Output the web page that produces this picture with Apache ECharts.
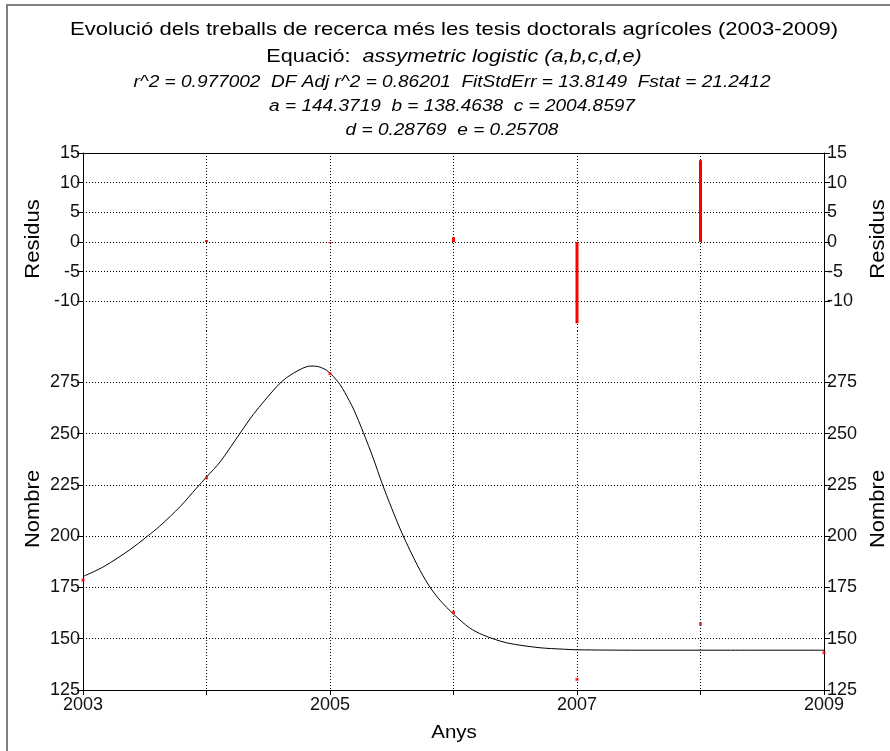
<!DOCTYPE html>
<html>
<head>
<meta charset="utf-8">
<script src="https://cdn.jsdelivr.net/npm/echarts@6/dist/echarts.min.js"></script>
<style>html,body{margin:0;padding:0;background:#fff;}#c{width:890px;height:751px;}</style>
</head>
<body>
<div id="c"></div>
<script>
// Observed data
const years = [2003, 2004, 2005, 2006, 2007, 2008, 2009];
const observed = [178.6, 228.4, 279.2, 162.8, 130.2, 157.2, 143.2];
const residuals = [0, 0.3, -0.2, 0.8, -13.7, 13.8, 0];
// Fitted curve
const fitYears = [2003.00, 2003.17, 2003.38, 2003.52, 2003.62, 2003.79, 2003.92, 2004.00, 2004.11, 2004.27, 2004.38, 2004.57, 2004.65, 2004.76, 2004.84, 2004.89, 2004.96, 2005.01, 2005.08, 2005.12, 2005.19, 2005.27, 2005.35, 2005.42, 2005.50, 2005.59, 2005.71, 2005.80, 2005.89, 2006.00, 2006.13, 2006.24, 2006.43, 2006.70, 2006.89, 2007.00, 2007.50, 2008.00, 2009.00];
const fitValues = [180.3, 185.2, 193.4, 199.9, 204.8, 214.6, 223.5, 228.8, 236.2, 250.0, 259.4, 273.0, 277.3, 281.3, 282.9, 282.8, 281.3, 278.9, 274.0, 270.0, 262.0, 250.5, 238.0, 226.0, 213.5, 200.5, 185.5, 176.0, 168.8, 162.0, 155.3, 151.8, 148.0, 145.6, 144.9, 144.6, 144.4, 144.4, 144.4];
// Tick labels
const residTicks = [-10, -5, 0, 5, 10, 15];
const countTicks = [125, 150, 175, 200, 225, 250, 275];
const xLabelYears = [2003, 2005, 2007, 2009];
// Texts
const titleLine1 = 'Evolució dels treballs de recerca més les tesis doctorals agrícoles (2003-2009)';
const titleLine2a = 'Equació:  ';
const titleLine2b = 'assymetric logistic (a,b,c,d,e)';
const statLine1 = 'r^2 = 0.977002  DF Adj r^2 = 0.86201  FitStdErr = 13.8149  Fstat = 21.2412';
const statLine2 = 'a = 144.3719  b = 138.4638  c = 2004.8597';
const statLine3 = 'd = 0.28769  e = 0.25708';

const FONT = '"Liberation Sans", Arial, sans-serif';
const dotted = { color: '#000', width: 1, type: [1, 2] };
const labelStyle = { color: '#111', fontSize: 18, fontFamily: FONT };

const chart = echarts.init(document.getElementById('c'));
const yAxisBase = (grid, min, max, interval, ticks, pos, split) => ({
  type: 'value', gridIndex: grid, min: min, max: max, interval: interval, position: pos,
  axisLine: { show: true, onZero: false, lineStyle: { color: '#000', width: 1 } },
  axisTick: { show: true, length: 6, lineStyle: { color: '#000' }, customValues: ticks },
  axisLabel: Object.assign({ margin: 3, customValues: ticks }, labelStyle),
  splitLine: { show: split, lineStyle: dotted }
});

const txt = (x, y, text, font, sx, rot) => ({
  type: 'text', x: x, y: y, scaleX: sx, rotation: rot || 0,
  style: { text: text, font: font, fill: '#000', textAlign: 'center', textVerticalAlign: 'middle' }
});

chart.setOption({
  animation: false,
  backgroundColor: '#fff',
  grid: [
    { left: 83, right: 66, top: 153, height: 178 },
    { left: 83, right: 66, top: 331, height: 359 }
  ],
  xAxis: [
    { type: 'value', gridIndex: 0, min: 2003, max: 2009, interval: 1, position: 'top',
      axisLine: { show: true, onZero: false, lineStyle: { color: '#000' } },
      axisTick: { show: false }, axisLabel: { show: false },
      splitLine: { show: true, lineStyle: dotted } },
    { type: 'value', gridIndex: 1, min: 2003, max: 2009, interval: 1, position: 'bottom',
      axisLine: { show: true, onZero: false, lineStyle: { color: '#000' } },
      axisTick: { show: true, length: 5, lineStyle: { color: '#000' } },
      axisLabel: Object.assign({ margin: 6, customValues: xLabelYears, formatter: v => String(v) }, labelStyle),
      splitLine: { show: true, lineStyle: dotted } }
  ],
  yAxis: [
    yAxisBase(0, -15, 15, 5, residTicks, 'left', true),
    yAxisBase(0, -15, 15, 5, residTicks, 'right', false),
    yAxisBase(1, 125, 300, 25, countTicks, 'left', true),
    yAxisBase(1, 125, 300, 25, countTicks, 'right', false)
  ],
  series: [
    { type: 'bar', xAxisIndex: 0, yAxisIndex: 0, barWidth: 3,
      itemStyle: { color: '#ff0000' },
      data: years.map((y, i) => [y, residuals[i]]) },
    { type: 'line', xAxisIndex: 1, yAxisIndex: 2, smooth: 0.3, showSymbol: false, symbol: 'none',
      lineStyle: { color: '#000', width: 1 },
      data: fitYears.map((y, i) => [y, fitValues[i]]) },
    { type: 'scatter', xAxisIndex: 1, yAxisIndex: 2, symbol: 'rect', symbolSize: 3,
      itemStyle: { color: '#ff0000' }, z: 5,
      data: years.map((y, i) => [y, observed[i]]) }
  ],
  graphic: [
    { type: 'rect', shape: { x: 7, y: 5, width: 900, height: 800 }, style: { fill: 'none', stroke: '#808080', lineWidth: 2 }, silent: true },
    txt(454, 30, titleLine1, '19px ' + FONT, 1.16),
    { type: 'text', x: 454, y: 57, scaleX: 1.14, style: {
        text: '{n|' + titleLine2a + '}{i|' + titleLine2b + '}', textAlign: 'center', textVerticalAlign: 'middle',
        rich: { n: { font: '19px ' + FONT, fill: '#000' }, i: { font: 'italic 19px ' + FONT, fill: '#000' } } } },
    txt(452, 83, statLine1, 'italic 16px ' + FONT, 1.19),
    txt(452, 107, statLine2, 'italic 16px ' + FONT, 1.19),
    txt(452, 131, statLine3, 'italic 16px ' + FONT, 1.19),
    txt(33, 239, 'Residus', '20px ' + FONT, 1.1, Math.PI / 2),
    txt(878, 239, 'Residus', '20px ' + FONT, 1.1, Math.PI / 2),
    txt(33, 509, 'Nombre', '20px ' + FONT, 1.1, Math.PI / 2),
    txt(878, 509, 'Nombre', '20px ' + FONT, 1.1, Math.PI / 2),
    txt(454, 733, 'Anys', '19px ' + FONT, 1.08)
  ]
});
</script>
</body>
</html>
